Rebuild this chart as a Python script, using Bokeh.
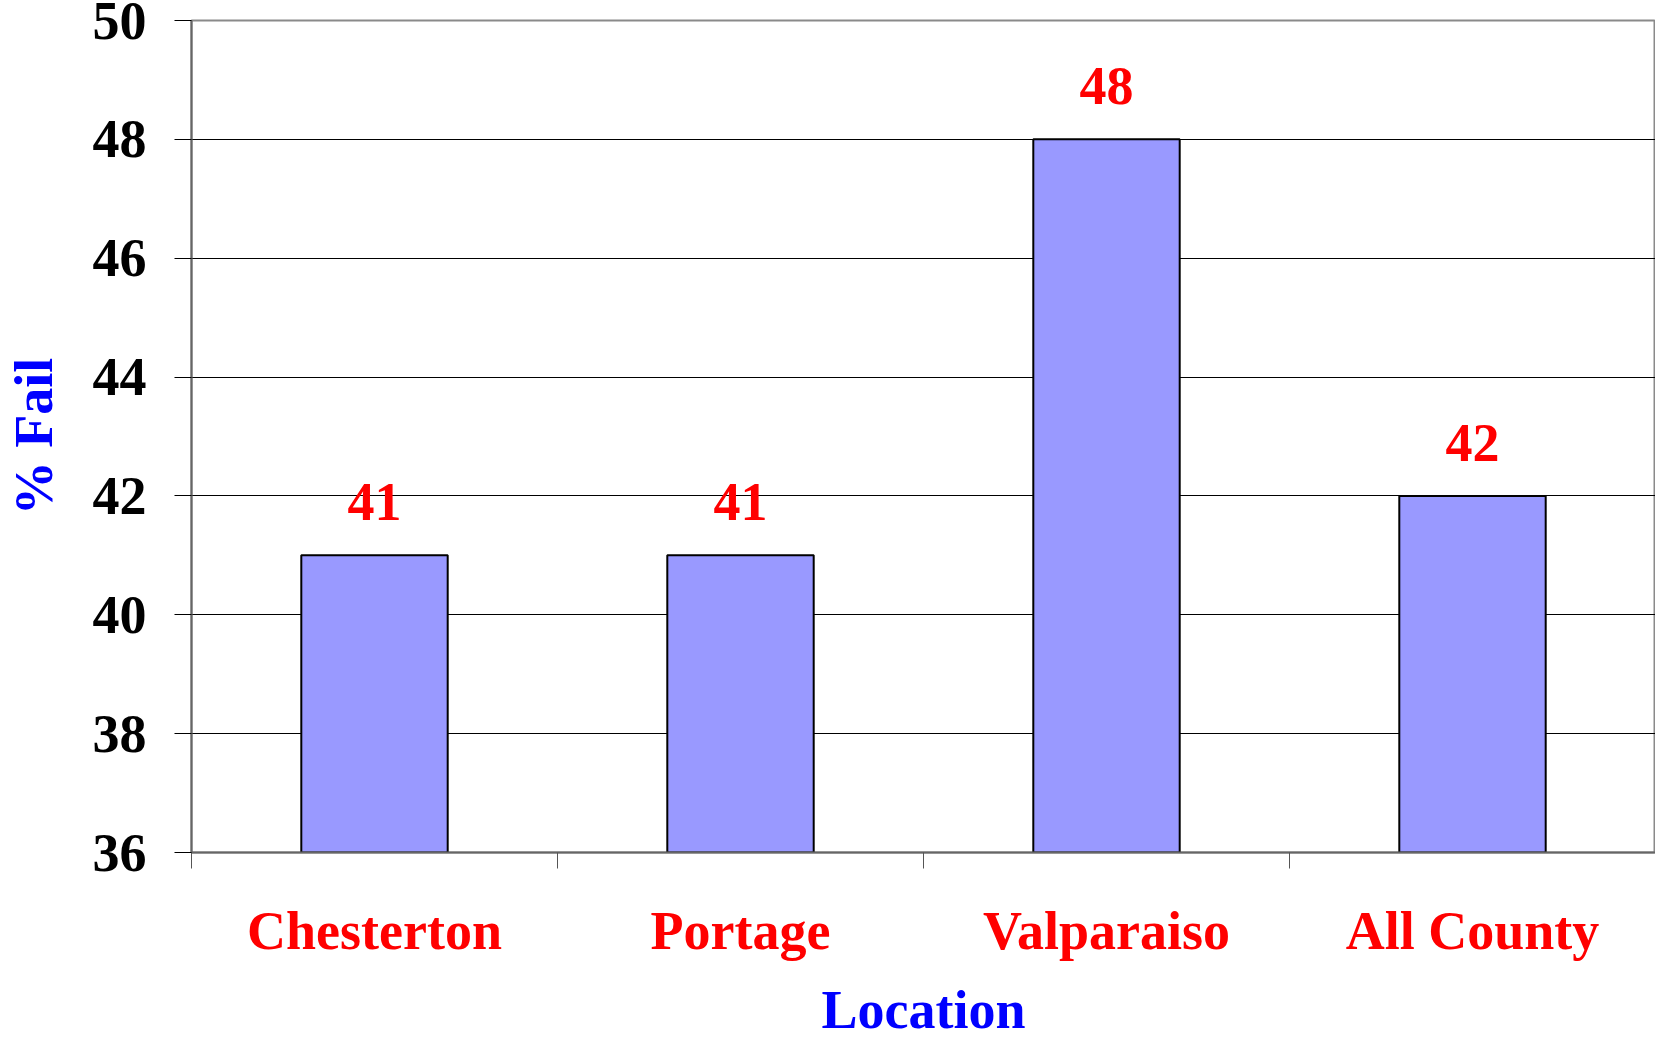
from bokeh.plotting import figure
from bokeh.models import (Range1d, FixedTicker, LinearAxis, Grid, ColumnDataSource,
                          CustomJSTickFormatter)
from bokeh.core.properties import value
from bokeh.embed import file_html
from bokeh.resources import INLINE

categories = ["Chesterton", "Portage", "Valparaiso", "All County"]
values = [41, 41, 48, 42]
value_labels = ["41", "41", "48", "42"]
y_ticks = [36, 38, 40, 42, 44, 46, 48, 50]
y_min, y_max = 36, 50

FONT = "Liberation Serif"

n = len(categories)
centers = [i + 0.5 for i in range(n)]
src = ColumnDataSource(dict(x=centers, cat=categories, val=values, lab=value_labels,
                            base=[y_min] * n))

p = figure(width=1655, height=1042, x_range=Range1d(0, n),
           y_range=Range1d(y_min, y_max), output_backend="svg",
           toolbar_location=None, x_axis_location=None, y_axis_location=None,
           min_border_left=188, min_border_right=0, min_border_top=20,
           min_border_bottom=188)

for g in p.grid:
    g.visible = False

p.background_fill_color = "white"
p.border_fill_color = "white"
p.outline_line_color = "#8a8a8a"
p.outline_line_width = 2

# grid
grid = Grid(dimension=1, ticker=FixedTicker(ticks=y_ticks), grid_line_color="black",
            grid_line_width=1)
p.add_layout(grid, "center")

# y axis
yax = LinearAxis(ticker=FixedTicker(ticks=y_ticks))
yax.axis_line_color = "#666666"
yax.axis_line_width = 2
yax.major_tick_out = 17
yax.major_tick_in = 0
yax.major_tick_line_color = "black"
yax.minor_tick_line_color = None
yax.major_label_standoff = 28
yax.major_label_text_font = FONT
yax.major_label_text_font_style = "bold"
yax.major_label_text_font_size = "54px"
yax.major_label_text_color = "black"
yax.axis_label = "% Fail"
yax.axis_label_text_font = FONT
yax.axis_label_text_font_style = "bold"
yax.axis_label_text_font_size = "54px"
yax.axis_label_text_color = "#0000FF"
yax.axis_label_standoff = 26
p.add_layout(yax, "left")

# x boundary tick axis
xt = LinearAxis(ticker=FixedTicker(ticks=list(range(n + 1))))
xt.axis_line_color = "#666666"
xt.axis_line_width = 2
xt.major_tick_out = 16
xt.major_tick_in = 0
xt.major_tick_line_color = "#555555"
xt.minor_tick_line_color = None
xt.major_label_text_font_size = "0px"
xt.major_label_standoff = 0
p.add_layout(xt, "below")

# x category label axis
xc = LinearAxis(ticker=FixedTicker(ticks=centers),
                formatter=CustomJSTickFormatter(args=dict(names=categories),
                                                code="return names[Math.floor(tick)];"))
xc.axis_line_color = None
xc.major_tick_line_color = None
xc.minor_tick_line_color = None
xc.major_tick_out = 0
xc.major_tick_in = 0
xc.major_label_standoff = 32
xc.major_label_text_font = FONT
xc.major_label_text_font_style = "bold"
xc.major_label_text_font_size = "54px"
xc.major_label_text_color = "#FF0000"
xc.axis_label = "Location"
xc.axis_label_text_font = FONT
xc.axis_label_text_font_style = "bold"
xc.axis_label_text_font_size = "54px"
xc.axis_label_text_color = "#0000FF"
xc.axis_label_standoff = 16
p.add_layout(xc, "below")

p.vbar(x="x", top="val", bottom="base", width=0.4, source=src,
       fill_color="#9999FF", line_color="black", line_width=2)

p.text(x="x", y="val", text="lab", source=src, text_align="center",
       text_baseline="alphabetic", y_offset=-53, text_color="#FF0000",
       text_font=value(FONT), text_font_style="bold", text_font_size="54px")

open("out.html", "w").write(file_html(p, INLINE))
